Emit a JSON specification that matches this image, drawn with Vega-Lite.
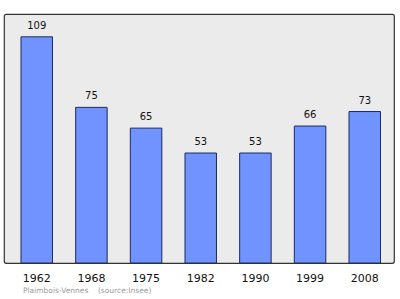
{
  "$schema": "https://vega.github.io/schema/vega-lite/v6.json",
  "width": 390,
  "height": 249,
  "autosize": "none",
  "padding": {"left": 4, "top": 14, "right": 6, "bottom": 36},
  "background": "white",
  "config": {
    "view": {"fill": "#ebebeb", "stroke": "#333333", "strokeWidth": 1.2, "cornerRadius": 2},
    "font": "DejaVu Sans"
  },
  "title": {
    "text": "Plaimbois-Vennes\u00a0\u00a0\u00a0\u00a0(source:Insee)",
    "orient": "bottom",
    "anchor": "start",
    "fontSize": 7.5,
    "fontWeight": "normal",
    "color": "#9a9a9a",
    "dx": 19,
    "offset": 4
  },
  "data": {
    "values": [
      {"year": "1962", "pop": 109},
      {"year": "1968", "pop": 75},
      {"year": "1975", "pop": 65},
      {"year": "1982", "pop": 53},
      {"year": "1990", "pop": 53},
      {"year": "1999", "pop": 66},
      {"year": "2008", "pop": 73}
    ]
  },
  "encoding": {
    "x": {
      "field": "year",
      "type": "ordinal",
      "scale": {"paddingInner": 0.424, "paddingOuter": 0.279, "align": 0.557},
      "axis": {
        "title": null,
        "domain": false,
        "ticks": false,
        "labelAngle": 0,
        "labelFontSize": 11,
        "labelColor": "#111111",
        "labelPadding": 9
      }
    },
    "y": {
      "field": "pop",
      "type": "quantitative",
      "scale": {"domain": [0, 120]},
      "axis": null
    }
  },
  "layer": [
    {
      "mark": {"type": "bar", "color": "#7093ff", "stroke": "#1c2b5e", "strokeWidth": 1}
    },
    {
      "mark": {"type": "text", "baseline": "bottom", "dy": -6, "fontSize": 10, "color": "#111111"},
      "encoding": {"text": {"field": "pop", "type": "quantitative"}}
    }
  ]
}
